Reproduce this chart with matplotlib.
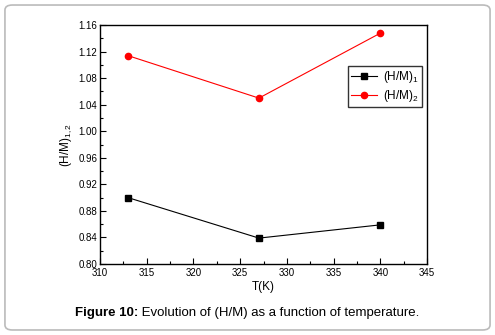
import matplotlib
matplotlib.use("Agg")
import matplotlib.pyplot as plt
from matplotlib.patches import FancyBboxPatch
from matplotlib.ticker import MultipleLocator, FormatStrFormatter

plt.rcParams['font.family'] = ['Liberation Sans', 'DejaVu Sans']
plt.rcParams['mathtext.fontset'] = 'custom'
plt.rcParams['mathtext.rm'] = 'Liberation Sans'
plt.rcParams['mathtext.it'] = 'Liberation Sans'
plt.rcParams['mathtext.bf'] = 'Liberation Sans:bold'

T = [313, 327, 340]
hm1 = [0.900, 0.839, 0.859]
hm2 = [1.114, 1.050, 1.148]

fig = plt.figure(figsize=(4.95, 3.35), dpi=100)
fig.patches.append(FancyBboxPatch((0.010, 0.015), 0.980, 0.97,
                                  boxstyle="round,pad=0,rounding_size=0.015",
                                  transform=fig.transFigure, fill=False,
                                  edgecolor='#bbbbbb', linewidth=1.2))
ax = fig.add_axes([0.202, 0.212, 0.661, 0.713])
ax.plot(T, hm1, color='black', marker='s', markersize=4.5, linewidth=0.8, label='(H/M)$_1$')
ax.plot(T, hm2, color='red', marker='o', markersize=4.5, linewidth=0.8, label='(H/M)$_2$')
ax.set_xlim(310, 345)
ax.set_ylim(0.80, 1.16)
ax.xaxis.set_major_locator(MultipleLocator(5))
ax.xaxis.set_minor_locator(MultipleLocator(2.5))
ax.yaxis.set_major_locator(MultipleLocator(0.04))
ax.yaxis.set_minor_locator(MultipleLocator(0.02))
ax.yaxis.set_major_formatter(FormatStrFormatter('%.2f'))
ax.tick_params(which='both', direction='in', labelsize=7, width=0.8)
ax.tick_params(which='major', length=4)
ax.tick_params(which='minor', length=2.5)
ax.tick_params(axis='x', pad=3)
ax.tick_params(axis='y', pad=2)
for s in ax.spines.values():
    s.set_linewidth(1.0)
ax.set_xlabel('T(K)', fontsize=8.5, labelpad=2)
ax.set_ylabel('(H/M)$_{1,2}$', fontsize=8.5, labelpad=3)
leg = ax.legend(loc='upper right', bbox_to_anchor=(0.985, 0.83), fontsize=8.5,
                frameon=True, fancybox=False, edgecolor='black', handlelength=2.2,
                borderpad=0.3, labelspacing=0.2, handletextpad=0.5, borderaxespad=0)
leg.get_frame().set_linewidth(1.0)

bold = 'Figure 10:'
rest = ' Evolution of (H/M) as a function of temperature.'
t1 = fig.text(0, 0.065, bold, ha='left', va='center', fontsize=9.5, fontweight='bold')
t2 = fig.text(0, 0.065, rest, ha='left', va='center', fontsize=9.5)
fig.canvas.draw()
r = fig.canvas.get_renderer()
w1 = t1.get_window_extent(r).width
w2 = t2.get_window_extent(r).width
W = fig.bbox.width
x0 = (W - (w1 + w2)) / 2
t1.set_x(x0 / W)
t2.set_x((x0 + w1) / W)
fig.savefig('out.png', dpi=100)
